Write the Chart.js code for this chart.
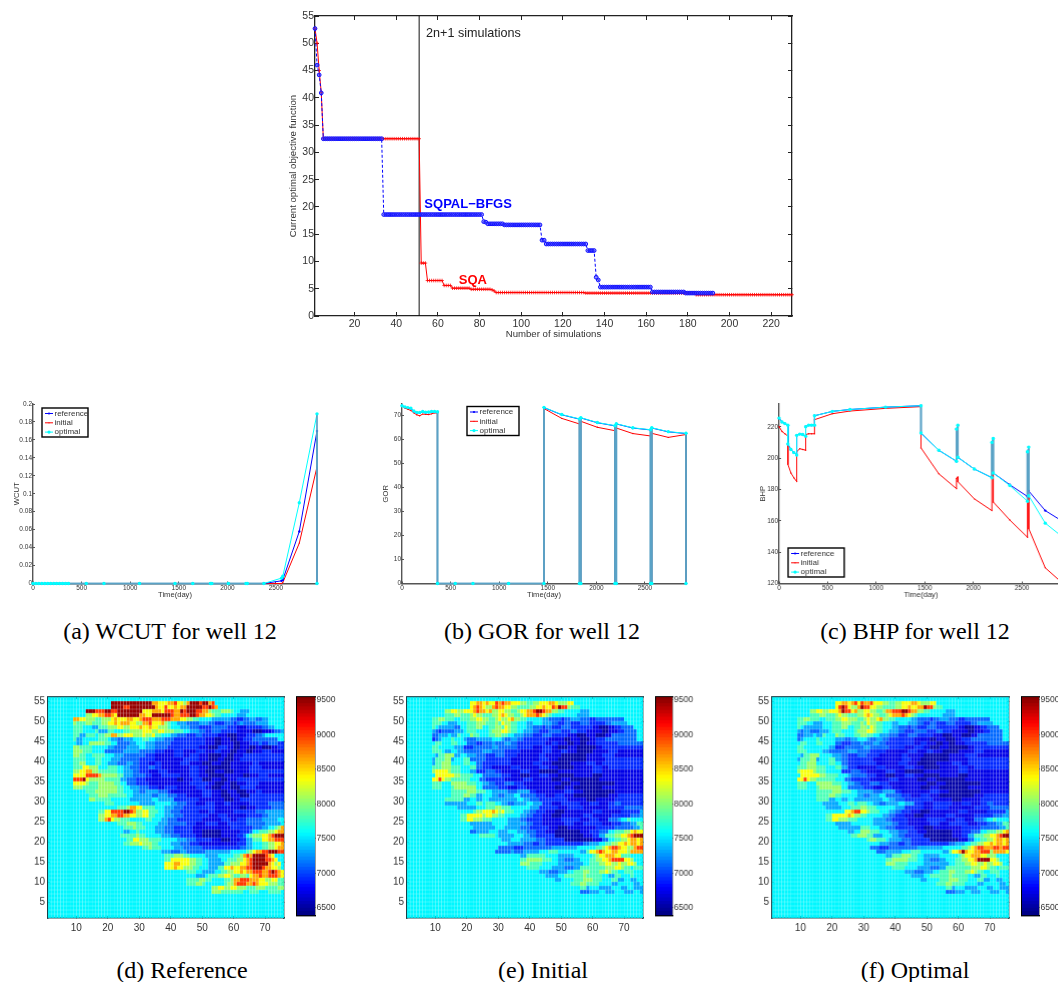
<!DOCTYPE html>
<html><head><meta charset="utf-8">
<style>
html,body{margin:0;padding:0;background:#fff;width:1058px;height:982px;overflow:hidden;position:relative}
.c{position:absolute}
.cap{position:absolute;font:24px "Liberation Serif",serif;color:#000;white-space:nowrap;transform:translateX(-50%)}
</style>
<script src="https://cdn.jsdelivr.net/npm/chart.js@4"></script>
</head><body>
<script>
// ---------- top chart data ----------
const sqpalRunLen=[1,1,1,1,29,48,1,1,8,18,2,20,4,1,1,25,16,14];
const sqpalRunVal=[52.7,46,44.2,40.9,32.5,18.6,17.3,17.2,16.9,16.7,13.9,13.2,12,7.1,6.6,5.3,4.4,4.2];
const sqaRunLen=[1,1,1,1,47,3,8,4,9,10,1,1,43,53,47];
const sqaRunVal=[52.7,50,45,41,32.5,9.7,6.5,5.6,5.1,4.9,4.8,4.6,4.3,4.2,3.9];
const simTicks=[20,40,60,80,100,120,140,160,180,200,220];
const objTicks=[0,5,10,15,20,25,30,35,40,45,50,55];
// ---------- well panels data ----------
const timeTicks=[0,500,1000,1500,2000,2500];
const timeA=[0,30,60,91,122,152,182,213,243,274,304,335,365,548,730,1096,1461,1644,1826,1840,2010,2191,2205,2375,2557,2570,2740,2922,2922];
const wcutRef=[0,0,0,0,0,0,0,0,0,0,0,0,0,0,0,0,0,0,0,0,0,0,0,0,.003,.004,.058,.17,0];
const wcutIni=[0,0,0,0,0,0,0,0,0,0,0,0,0,0,0,0,0,0,0,0,0,0,0,0,0,.001,.045,.13,0];
const wcutOpt=[0,0,0,0,0,0,0,0,0,0,0,0,0,0,0,0,0,0,0,0,0,0,0,0,.006,.008,.09,.189,0];
const wcutTicks=[0,.02,.04,.06,.08,.1,.12,.14,.16,.18,.2];
const timeB=[0,30,60,91,122,152,182,213,243,274,304,335,365,365,548,730,1096,1461,1461,1644,1826,1826,1840,1840,2010,2191,2191,2205,2205,2375,2557,2557,2570,2570,2740,2922,2922];
const gorRef=[74,73.4,73.1,72.9,71.7,71.1,71.1,71.5,71.2,71.3,71.5,71.5,71.4,0,0,0,0,0,73.2,70.2,68.4,0,0,68.9,66.9,65.6,0,0,66.4,64.7,63.9,0,0,64.7,63.1,62.4,0];
const gorIni=[74,73,72.5,72,71,70.2,69.8,70.5,70.4,70.3,70.6,71,70.9,0,0,0,0,0,72.8,68.7,66.4,0,0,67.5,65,63.6,0,0,64.7,62.4,61.4,0,0,62.5,60.8,62,0];
const gorOpt=[74,73.5,73.2,73,71.8,71.2,71.2,71.6,71.3,71.4,71.6,71.6,71.5,0,0,0,0,0,73.3,70.3,68.5,0,0,69,67,65.7,0,0,66.5,64.8,64,0,0,64.8,63.2,62.5,0];
const gorTicks=[0,10,20,30,40,50,60,70];
const timeC=[0,30,60,91,91,122,152,182,182,213,243,274,274,304,335,365,365,548,730,1096,1461,1461,1644,1826,1826,1840,1840,2010,2191,2191,2205,2205,2375,2557,2557,2570,2570,2740,2922];
const bhpRef=[225.5,223,222,221,209,205.5,203.5,202,214.5,215.3,215,214,220,221,221,221,227,229.8,231,232.5,233.4,216,205,198,218.5,221,200.5,193,187.5,210,212.5,190.5,183,175.5,204,207,179,166.5,159.5];
const bhpIni=[220,217,215.5,214,196,190.5,187.5,185,204,206,205.5,205,215,215.5,215.5,215.5,224.5,228.3,230,231.7,232.8,206.5,190,180.5,187,188,185,174,166.5,189,191,172,160.5,149.5,175,177,155,130,120];
const bhpOpt=[225.5,223,222,221,209,205.5,203.5,202,214.5,215.3,215,214,220,221,221,221,227,229.8,231,232.5,233.4,216,205,198,218.5,221,200.5,193,187.5,210,212.5,190.5,182.5,172.5,204,207,176,158.5,149.5];
const bhpTicks=[120,140,160,180,200,220];
// ---------- maps, rows y=54 downward; letters index levelValues, digits are run lengths, @n holds the last level up to column n ----------
const levelValues={a:6500,b:6700,c:6900,d:7100,e:7300,f:7550,g:7780,h:8020,i:8320,j:8620,k:9000,l:9450};
const mapTicksX=[10,20,30,40,50,60,70];
const mapTicksY=[5,10,15,20,25,30,35,40,45,50,55];
const barTicks=[6500,7000,7500,8000,8500,9000,9500];
const mapD=[
"20f13l2j1i2i2j1k2i1h1j3l1k2l1j1k",
"20f4l2k8l1j2i1k2i1j1i2j5l2k1l1k1j",
"12f3l3k2l2k8l3i3j1i3k2j1l1k3l2k2j1h3g3h1g2f3e",
"12f2h2i2j2k1j1i7l2j2i6l1k2j3k2l1k2j2i1h2g5f3e",
"8f2j2i3h2g3h1i1j3i2j2i1j3k3j3k3j2i2h2g4f6e2d2c2d2e2d2e@69",
"8f1h3g2h3g2h2i1j1i3j2i2h2j1k3i1j1h1g2f3e4d3e2d3c3d1c1d1e4d3e@70",
"8f3g3f2e3g3h2i2h3i1j2i1j2i3h1g3f3e3d4c5d3c3b5c2d2e@72",
"8f3g4f1g3e2g3f2g4h3i2h2i3h3g2f3e2d2c3d5c5b3a3b1c2d1e@73",
"8f2g2e3g1f2g2h2j2h3i3h1i2h1i2g3f2e3d3c2d5c3b3a3b3c2d1e",
"8f1g2e5f3g1f2e2d3e3f2g2f3e3d2c3c2c3c3b2a3b2a2b3c2d@73",
"9f2e2f5h2g2f4d2e3f3e5d4c2c5c3b2a4b2a3b3c1d2c3d2c@75",
"8f2h4g4f1f2e4d4e2f3e4d3c5c2c3b3a3c2b2a3b2a2b3a2b3c@75",
"8f3h3g3f1f3d3d3e2e3d2d3c3b3c4b3c3b2c3b2a3b2a3b3c3b@75",
"8f2h2g2f1g3g3f3e3d2d2d3c6b3c2b3c3b4a2b2a3b3c3c@75",
"8f2g2g3f2g3f3e3d3d2c3c6b3b2c3c3b3a2b3a2b3c3c@75",
"8f2g2h3f2g2f3e3d2e2d3c2b2c4b2b3c4b3a3b2a1a4b3b2c2b@75",
"8f3g2i3h3f3g2f2e3d3c2d2c5b4b3c3b3a2a2a2b4b2c2c2b@75",
"8f2h2i2j2h2g4g2f3e2d3c3b3c4b3b3c2b3a3b3a2b3b3c3c2c@75",
"8f2i2i4k1j2h3h2g3e4d2c3b3c3c3b3c3b2a3a3b3b2a3b3c2b@75",
"8f3k1l1i3h2h2g3g2e3d3c3b4b3b1a1a3b3c3a3b2a3b4c3c@75",
"8f4i1h3g3h2h2g2f3d4c3b3b4b3b3c3c2b3a2b2a3b4c2b@75",
"8f3h3g2g3h3h2g2f3e3d3c2b4c3b3b3c2b3a3b3a3c2c2b@75",
"12f3g4h3h2g3f2e2d4e3d1c4b3b3b3c3b2a3b3a3b2c3b@75",
"13f3g3h3g3g2f3e3e2d3e3d3c3b2b3c3b3a3b3a3c3c@75",
"13f2h2g3g2f4f2e3e2e2f2e3e2c3c3c3b2b3b3a2b2c3c3c@75",
"15f3f3g3f5f2e3e2f3f2e3d3c3b3c3b2c3b3b3c3c2d@75",
"22f2g1g1h2j2i4g2f1f2e1e3d4c3c3c3b2b3b2a3b3c2c3d@75",
"16f2g2i1k3k2l1k1j2h2i3g2f2e3d3c3c3b2c3b3b2c2c3c3d2e@75",
"16f2h2i2j2k2j2i2h2i2g3f3e3d3c3c2c3b3c3b3b3c2c2d3e@75",
"16f2h1j1k1i2h3g3f2f2g3f2e3d3c2c3c4b2b3c2b3c3d2d1e@73",
"20f2f3g3h2g2f3f3e3d3d3c3b4c3b3c3c3d3d3e2e2f1g1i",
"21f3f3g1h1g2g3f3e3d3c3c3b3b3b3b4c3c3d2e2f1g1h2j1i",
"21f3f2e2f1g2f3f3e3d3c3c3b3a3a3b3b3c1d2f3g2h1i2j1j2k",
"23f3g2g1h2g2f3f3e3d2c3c2b3a3a3b2b2c1d1f1g2h1h2i1j1k3l",
"25f2g2i3h1g3g2f3f3e3d2c3c3b3a3b2c2e3g2i2j3k1k2l",
"24f2g3h1i2h1h2g2f2f3e3d3c3b3b3b3b3c2e3f2g2h2i1j2k1k3l",
"30f2g1h2g1g2f2f3e3d3d3c3c3c3c2d2e3f2g2h1i2j1k1j3k2k1l",
"36f3e3d2e3d3d3e2e3e3f2f1g1h1i2j2k3l3k3l1k",
"37f3g3h2g2f3f2e2e2f3f2g1h1j1k1j4l1k1j1i",
"37f2g3i3i2h2g2f2e2e2f3g2h1i1j1k4l2k1j1i",
"37f3i2j3i2h2g2f3e2e2g3h2i1j1k5l1j1i1h1i",
"37f3i1j2i3h2g3f3e2g2i1j2i2j2k3l1k2j2i1h",
"44f3g2f2e2e2f2g2h2i1j1i2j3k2j1k1l1k1j1i1j",
"47f3e1f3g2h2i1h2g2h1g1i2j1k2j2k1k1j2i",
"44f4g2h2g4f2g1h2j3k3j2i2h2i3g1h",
"44f3g2h1g6f1g2h1j3k2j1k1j3i3h3g",
"52f2h2i2h2i3h3g3h4g2h2g1f",
"52f3h7g2f3g3f4g3f1d1e"];
const mapE=[
"20f2i2j1i1j2i1k1j1k2j3i2h2g2h3i2j1i3h2i",
"20f1i1j1k1j1i2h1j1k2j2i2h4g2h2i1j2i1k1j1l2k1h3g",
"12f2h2i2h2i1i1j1k2j1i1j2h2i2h2g1h2i2j1k2l1k2j2h2g3f2f3e",
"12f3g2h1g2g1h1i2h3g2h1i1j1i2h2g1h1i3j1k1j1i1h1g3f5f2e2e",
"8f2g2h3g2f3g2h2i2h2g1h1i2h1i1j2h2g2f3f2e2d2d1c2d3e3d2c3d@69",
"8f3g2f3e3f3g3h3g1h1g1i2h2g3f2e3f3e2d2c2d3c3d2c3c2d2e@70",
"8f1g1f5e2d2f3g2h2f2g2h1g1i1h2g3f2e3d1c2d3c3d4c3c2b3a2b2c1d@72",
"8f1e1d1c4d3e1f3g4f1g3h2i1h2g2f3e2d3c4d3c2d3c5b2a3b2c1d@73",
"8f2d3e1f2e1g3f1h2g3f2g2h2g2f3e3d3c3d2c3c3b3a3b3a2b2d@73",
"8f1c1d1e3f1g3f1e3d3e2e3f1e2d2e2d3c3c2c2b3b2a3b3a2b3c2d@73",
"9f2g3f2g3f3d2c3d1e3d2e2d3c3c3c2b2c3b2a2b2a3b3c4c2d@75",
"8f2g3f2f3e3c3d3d2e3d3d2c3c3b3c2b3a3b3a3a2b2c3c@75",
"8f3g1f2e2f2e3d3d3e2d2d2c3c3b4b3c3b2c3b3a2a2b3b3c2b@75",
"9f1e2g3h2e2f3e3d3c3d2c2c3b4b2c3b2b3a3a2a2b3b2c2c2b@75",
"8f1e3g2h1e3f2g2d3d3c3c2c3b4b2b3c3b3a4a2a3b3b2c2c@75",
"8f1e2g3h2f2f2g2f2d3c3c3c3b4b3c3b2a4a3b2b3c2b3c@75",
"8f3g3h3g3f2g2d3c3b3b3c3b3b3c3b3a2a3b3b3c2b3c@75",
"8f1h2i2i1h3g3f2e3c3d2c3b3b3c3b3a3a3b2b3b3b3c2b3b@75",
"9f2i4i2h2g2g3f3d3d3c3b3a3b3c3b2a3a3b3b3a2b3b3b@75",
"8f2i1k1i2h3g3g3f2d3c3c3b3b3c3b3b3a3b3a3a3a2b3b@75",
"8f3g3f2h3h3g2f2e2d3c3d3c3b3b3b3b3a3b2a3a3a3a3b@75",
"8f3g3f1g3h4h2f2d3d3c3b3c3b3b3b3a3b3a3a3a3b3b@75",
"14f2g3g3h3g2f2e3e3d4e2c3b3b3b3c3b3a2a3a2a3b3b@75",
"14f2g2g2h2g2e3f2e2d3e2f3d2d3c3b3c3b3a2a3a3a3b2c@75",
"12f2g2g2g2e2f2e2f3e3e3e2f2e3d3c3c3c3b3b3a3b3b2c2c@75",
"12f4e3e3f2g1f3g2f2e2d2e2e2f3e3c3b3c3c3b3c3b2c2d2c@75",
"16f3e3e3f1g2g2h3g2f3f1f3e3c3c3b3c2c3b3b2b3c2c3d@75",
"21f1g2h1i2i1j1i1h1i3g3f2e2d3c3b3a3b3b3b3c3b3b3c3c2e@75",
"17f2g2i3i1h2i2h2g2f3f2e2d3c3b3a3b4b3c3b3b3c3c3d1e@75",
"17f2g2i1h2h1g2g3f2f2e2e2d3c2c3b3b3c3c3b3c3b3d1e2f1g",
"20f2e3e2e3f2f2e3e1e2d3c3b4b3c3b3c3c3b3c3d2e3g1h1i",
"21f2e3e2e3f3e2e3d3c3c3b3a3b3b3b3c3c3d3d2e2g2h2i",
"20f2d2e2e3f3e3f3e3d3c3b3a3a2a3b3c3d2f3g2h1i1j2i1j",
"23f2g3g1f2e3e3f2e2d3c3c3a3a3a3b2c2e3g2h2i1j1k1l1l3l",
"30f1e2e3f2e3e3d3c3c3a3a3a3b2d2f2g2h1i2j1i1j1k1l1k2l",
"32f3e2e3d2c2d3c3c3c3c2d3e2f2g2h2i1j1i2j1i1j2k",
"29f3d2d3c3d3d3d3e2e3e3f3f2g1h1i1j2k1j2i2h1j2k",
"28f2d3d1e3d2e3e3f3g3f1f2f1f2e1g2i1j1k1j2i2j1i2i1h1j3j3i",
"36f2e3g3g2f2f3e2e3f3f1g1h2i2j1j2i3g",
"36f2g2h3h3g2f2e3d2e3f2g2h2i1j4k2i1h",
"36f3h2g2g2f3f3e3e2e2f3g2h2i2h1i2h2i1h",
"38f2g2g2f2f2e2e3d2e2g3g3g3h2i1h2g1f3g1h2g",
"42f3e3d3e2f3g2h3g2h1i1h2g2f3g",
"44f4e2f3g3g1h2g3g2f2e2g1f2f1g",
"47f2e4f3g3h3g3f2g2e2f2e",
"52f3g2h4g4f2e2f3f2e",
"55f2g1e3f2e2e3f2e2f3e",
"55f3d1e2e2f2e1e3f3e2f1e3c"];
const mapF=[
"20f2i2j1i1j1k1i1k2j1k3i2h2g2h3i2j1i3h2i",
"20f1i1k1l1k1i2h1j1l2k2i2h4g2h2i1j2i2j1l2k1h2g",
"12f2h2i2h2i1i1j1l2k1i1j2h2i2h2g1h2j2k1k2l1k2j2h2g3f2f3e",
"12f3g2h1g2g1h1i2h3g2h1i1j1i2h2g1h1i3j1k1j1i1h1g3f5f2e2e",
"8f2g2h3g2f3g2h2i3h2g1h1i2h1i1j2h2g2f3f2e2d2d1c2d3e3d2c3d@69",
"8f3g2f3e3f3g3h3g1h1g1i2h2g3f2e3f3e2d2c2d3c3d2c3c2d2e@70",
"8f1g1f6e1f2f3g2h2f2g2h1g1i1h2g3f2e3d1c2d3c3d4c3c2b3a2b2c1d@72",
"8f1e1d2e3d3e1f3g4f1g3h2i1h2g2f3e2d3c4d3c2d3c5b2a3b2c1d@73",
"8f2d3e1f2e1g3f1h2g3f2g2h2g2f3e3d3c3d2c3c3b3a3b3a2b2d@73",
"8f1d1e4f1g3f2f1e2e2d2e3f1e2d2e2d3c3c2c2b3b2a3b3a2b3c2d@73",
"9f2g3f2g3f1f2d3c3d1e3d2e2d3c3c3c2b2c3b2a2b2a3b3c4c2d@75",
"8f2g3f2f3f2e3c3d3d2e3d3d2c3c3b3c2b3a3b3a3a2b2c3c@75",
"8f3g1f2f2f2e3d3d3e2d2d2c3c3b4b3c3b2c3b3a2a2b3b3c2b@75",
"9f1e2g3h1f3f3e2d3c3d2c2c3b4b2c3b2b3a3a2a2b3b2c2c2b@75",
"8f1e3g2h1e3f2g2e2d3c3c2c3b4b2b3c3b3a4a2a3b3b2c2c@75",
"8f1f2g3h2f2f2g2f2d3c3c3c3b4b3c3b2a4a3b2b3c2b3c@75",
"8f3g3h3g3f2g2e3c3b3b3c3b3b3c3b3a2a3b3b3c2b3c@75",
"8f1h2i2i1h3g3f2f3c3d2c3b3b3c3b3a3a3b2b3b3b3c2b3b@75",
"9f2i4i2h2g2g3f1e2d3d3c3b3a3b3c3b2a3a3b3b3a2b3b3b@75",
"8f2i1k1i2h3g3g3f2d3c3c3b3b3c3b3b3a3b3a3a3a2b3b@75",
"8f3g3f2h3h3g2f2e2d3c3d3c3b3b3b3b3a3b2a3a3a3a3b@75",
"8f3g3f1g3h4h2f2d3d3c3b3c3b3b3b3a3b3a3a3a3b3b@75",
"14f2g3g3h3g2f2e3e3d4e2c3b3b3b3c3b3a2a3a2a3b3b@75",
"14f2g2g2h2g2f3f2e2d3e2f3d2d3c3b3c3b3a2a3a3a3b2c@75",
"14f2g2g2e2f2e2f3e3e3e2f2e3d3c3c3c3b3b3a3b3b2c2c@75",
"16f2e3e3f2g1f3g2f2e2d2e2e2f3e3c3b3c3c3b3c3b2c2d2c@75",
"17f2e3e3f1g2g2h3g2f3f1f3e3c3c3b3c2c3b3b2b3c2c3d@75",
"23f1i1i1j2k2i1h3g3f2e2d3c3b3a3b3b3b3c3b3b3c3c2e@75",
"17f2g2i3i1j1i2h2g2f3f2e2d3c3b3a3b4b3c3b3b3c3c3d1e@75",
"17f2g2i1h2h1g2g3f2f2e2e2d3c2c3b3b3c3c3b3c3b3d1e2f1g",
"20f2e3e2f3f2f2e3e1e2d3c3b4b3c3b3c3c3b3c3d2e3g1h1i",
"21f2e3e2e3g3f2e3d3c3c3b3a3b3b3b3c3c3d3d2e2g2h2j",
"24f2e2f3h3g3f3e3d3c3b3a3a2a3b3c3d2f3g2h1i1j2i1j",
"25f2g3h2g3e3f2e2d3c3c3a3a3a3b2c2e3g2h2i1j1k5l",
"30f1g2h3g1f1e3e3d3c3c3a3a3a3b2d2f2g2h1i2j1i1j1k1l1k2l",
"34f3e3d2c2d3c3c3c3c2d3e2f2g2h2i1j1i2j1i1j2k",
"31f3d3c3d3d3d3e2e3e3f3f2g1h1i1j2k1j2j2k1j2k",
"33f3d2e3e3f3g3f1f2f1f2e1g2i1j1l1j2i2j1k2k1h1j3j3i",
"36f2e3g3h2g2f3e2e3f3f1g1h2i2j1j2i3h",
"36f2g2h3h3g2f2e3d2e3f2g2h2i1j4l2i1h",
"36f3h2g2g2f3f3e3e2e2f3g2h2i2h1i2h2i1h",
"38f2g2g2f2f2e2e3d2e2g3g3g3h2i1h2g1f3g1h2g",
"42f3e3d3e2f3g2h3g2h1i1h2g2f3g",
"44f4e2f3g3g1h2g3g2f2e2g1f2f1g",
"47f2e4f3g3h3g3f2g2e2f2e",
"52f3g2h4g4f2e2f3f2e",
"55f2g1e3f2e2e3f2e2f3e",
"55f3d1e2e2f2e1e3f3e2f1e3c"];

// ---------- helpers ----------
const SANS='"Liberation Sans",sans-serif';
const INK='#222';
Chart.defaults.animation=false;
function expand(lens,vals){const o=[];let x=1;lens.forEach((n,i)=>{for(let k=0;k<n;k++)o.push({x:x++,y:vals[i]});});return o;}
function zip(xs,ys){return xs.map((x,i)=>({x,y:ys[i]}));}
function jet(t){t=Math.max(0,Math.min(1,t));
  const f=(c)=>Math.round(255*Math.max(0,Math.min(1,1.5-Math.abs(4*t-c))));
  return `rgb(${f(3)},${f(2)},${f(1)})`;}
const CMIN=6390,CMAX=9543;
const valColor=v=>{const n=Math.floor((v-CMIN)/(CMAX-CMIN)*64);return jet((Math.min(63,n)+.5)/64);};
function mount(L,T,R,B,PL,PB,cfg,rightAxis){
  const PT=26,PR=44;
  const w=R-L+PL+PR,h=B-T+PT+PB;
  const cv=document.createElement('canvas');
  cv.className='c';cv.width=w;cv.height=h;
  cv.style.cssText=`left:${L-PL}px;top:${T-PT}px;width:${w}px;height:${h}px`;
  document.body.appendChild(cv);
  cfg.options=Object.assign({responsive:false,devicePixelRatio:1,animation:false,
    layout:{padding:{top:PT,right:PR-(rightAxis||0),left:0,bottom:0}}},cfg.options||{});
  cfg.options.plugins=Object.assign({legend:{display:false},tooltip:{enabled:false}},cfg.options.plugins||{});
  return new Chart(cv.getContext('2d'),cfg);
}
function axis(o){
  const horiz=(o.position==='bottom'||o.position==='top');
  const ax={type:'linear',position:o.position,min:o.min,max:o.max,offset:false,
    afterFit:s=>{if(horiz)s.height=o.size;else s.width=o.size;},
    afterBuildTicks:s=>{s.ticks=o.ticks.map(v=>({value:v}));},
    border:{display:true,color:o.line||INK,width:o.lw||1},
    grid:{offset:false,drawOnChartArea:false,drawTicks:!!o.tick,tickLength:-(o.tick||0),tickColor:o.line||INK,tickWidth:1},
    ticks:{display:!!o.labels,autoSkip:false,maxRotation:0,minRotation:0,color:o.color||'#333',
      font:{family:SANS,size:o.fs||10},padding:(o.tick||0)+(o.pad||2),
      callback:v=>String(+v.toFixed(2))}};
  if(o.title)ax.title={display:true,text:o.title,color:o.color||'#333',font:{family:SANS,size:o.tfs||10},padding:0};
  return ax;
}
const legendBox=(x,y,w,h,rows)=>({id:'box',afterDatasetsDraw(c){
  const g=c.ctx,a=c.chartArea;g.save();
  const X=a.left+x,Y=a.top+y;
  g.fillStyle='#fff';g.strokeStyle='#000';g.lineWidth=1.4;g.fillRect(X,Y,w,h);g.strokeRect(X,Y,w,h);
  g.font='8px '+SANS;g.textBaseline='middle';
  rows.forEach((r,i)=>{const yy=Y+5.5+i*9.3;
    g.strokeStyle=r.color;g.lineWidth=1;g.beginPath();g.moveTo(X+3,yy);g.lineTo(X+11,yy);g.stroke();
    g.fillStyle=r.color;g.beginPath();g.arc(X+7,yy,r.size,0,7);g.fill();
    g.fillStyle='#333';g.fillText(r.text,X+12.5,yy);});
  g.restore();}});
const legendRows=[{text:'reference',color:'#0000ff',size:1.1},{text:'initial',color:'#ff0000',size:.6},{text:'optimal',color:'#00ffff',size:1.6}];

// ---------- top chart ----------
const noteList=[{x:54.3,y:51.8,t:'2n+1 simulations',f:'12.6px '+SANS,c:'#222'},
  {x:53.5,y:20.5,t:'SQPAL\u2212BFGS',f:'bold 13px '+SANS,c:'#0000ff'},
  {x:70,y:6.6,t:'SQA',f:'bold 13px '+SANS,c:'#ff0000'}];
const notes={id:'notes',afterDatasetsDraw(c){const g=c.ctx;g.save();g.textBaseline='middle';
  noteList.forEach(n=>{g.font=n.f;g.fillStyle=n.c;g.fillText(n.t,c.scales.x.getPixelForValue(n.x),c.scales.y.getPixelForValue(n.y));});g.restore();}};
const sqpalData=expand(sqpalRunLen,sqpalRunVal),sqaData=expand(sqaRunLen,sqaRunVal);
mount(315,16,792,316,27,24,{type:'line',data:{datasets:[
  {label:'SQPAL-BFGS',data:sqpalData,borderColor:'#0000ff',borderWidth:1,borderDash:[3,2],pointStyle:'circle',pointRadius:1.9,pointBorderWidth:1,pointBorderColor:'#1010ff',pointBackgroundColor:'rgba(60,60,255,.55)',clip:false,order:1},
  {label:'SQA',data:sqaData,borderColor:'#ff0000',borderWidth:1,pointStyle:'cross',pointRadius:1.8,pointBorderWidth:.8,pointBorderColor:'#ff0000',clip:false,order:2},
  {label:'2n+1',data:[{x:51,y:0},{x:51,y:55}],borderColor:'#111',borderWidth:1,pointRadius:0,order:3}
]},plugins:[notes],options:{scales:{
  x:axis({position:'bottom',min:1,max:230,ticks:simTicks,labels:true,size:24,tick:4,fs:10.5,title:'Number of simulations',tfs:9.6,pad:2,lw:1.3}),
  y:axis({position:'left',min:0,max:55,ticks:objTicks,labels:true,size:27,tick:4,fs:10.5,title:'Current optimal objective function',tfs:9.6,pad:1,lw:1.3}),
  xT:axis({position:'top',min:1,max:230,ticks:simTicks,size:0,tick:4,lw:1.3}),
  yR:axis({position:'right',min:0,max:55,ticks:objTicks,size:0,tick:4,lw:1.3})
}}});

// ---------- well panels ----------
const steel='#5aa2c6';
function well(L,R,yMin,yMax,yTicks,title,xs,ref,ini,opt,lg){
  const isSteel=c=>{const a=c.p0.parsed,b=c.p1.parsed;return (a.y===0&&b.y===0)||(a.x===b.x&&(a.x>=1461||a.y===0||b.y===0));};
  const seg={borderColor:c=>isSteel(c)?steel:undefined,borderWidth:c=>isSteel(c)?1.7:undefined};
  const xMax=2922;
  mount(L,404,R,583.7,21,15.5,{type:'line',data:{datasets:[
    {label:'reference',data:zip(xs,ref),borderColor:'#0000ff',backgroundColor:'#0000ff',borderWidth:1,pointRadius:1.2,pointBorderWidth:0,segment:seg,clip:false,order:2},
    {label:'initial',data:zip(xs,ini),borderColor:'#ff0000',backgroundColor:'#ff0000',borderWidth:1,pointRadius:.7,pointBorderWidth:0,clip:false,order:3},
    {label:'optimal',data:zip(xs,opt),borderColor:'#00ffff',backgroundColor:'#00ffff',borderWidth:1,pointRadius:1.7,pointBorderWidth:0,segment:seg,clip:false,order:1}
  ]},plugins:[legendBox(lg[0]-L,lg[1]-404,lg[2],lg[3],legendRows)],options:{scales:{
    x:axis({position:'bottom',min:0,max:xMax,ticks:timeTicks,labels:true,size:15.5,tick:2,fs:6.5,title:'Time(day)',tfs:7.6,pad:1,line:'#555',lw:1.4}),
    y:axis({position:'left',min:yMin,max:yMax,ticks:yTicks,labels:true,size:21,tick:2,fs:6.5,title,tfs:7.6,pad:1,line:'#555',lw:1.4})
  }}});
}
well(33,317,0,.2,wcutTicks,'WCUT',timeA,wcutRef,wcutIni,wcutOpt,[42,408,46,29]);
well(402,686,0,74.7,gorTicks,'GOR',timeB,gorRef,gorIni,gorOpt,[467,406.5,52,29]);
well(779,1062.7,120,234.5,bhpTicks,'BHP',timeC,bhpRef,bhpIni,bhpOpt,[788,548,56,29]);

// ---------- maps ----------
function decode(rows){
  return rows.map(r=>{const out=[];let last=levelValues.f;
    for(const m of r.matchAll(/(\d+)([a-l])|@(\d+)/g)){
      if(m[3]){while(out.length<+m[3])out.push(last);}
      else{last=levelValues[m[2]];for(let k=0;k<+m[1];k++)out.push(last);}}
    while(out.length<75)out.push(levelValues.f);return out.slice(0,75);});
}
function heat(L,R,rows){
  const grid=decode(rows);
  const labels=Array.from({length:75},(_,i)=>i+1);
  const datasets=[];
  for(let y=1;y<=55;y++){
    const row=grid[54-y]||labels.map(()=>levelValues.f);
    datasets.push({data:row.map(()=>[y+.03,y+.97]),backgroundColor:row.map(valColor),borderWidth:0,inflateAmount:0,xAxisID:'x',yAxisID:'y'});
  }
  mount(L,697,R,917.7,26,19,{type:'bar',data:{labels,datasets},options:{
    barPercentage:.98,categoryPercentage:1,
    datasets:{bar:{grouped:false}},
    scales:{
      x:{type:'category',display:false,offset:true},
      xB:axis({position:'bottom',min:1,max:76,ticks:mapTicksX,labels:true,size:19,tick:2,fs:10,line:'#17424a',lw:1.4,pad:4}),
      y:axis({position:'left',min:1,max:56,ticks:mapTicksY,labels:true,size:26,tick:2,fs:10,line:'#17424a',lw:1.4,pad:3}),
      xT:axis({position:'top',min:1,max:76,ticks:mapTicksX,size:0,tick:2,line:'#17424a',lw:1.4}),
      yR:axis({position:'right',min:1,max:56,ticks:mapTicksY,size:0,tick:2,line:'#17424a',lw:1.4})
    }}});
}
function colorbar(L,R){
  const datasets=[];const step=(CMAX-CMIN)/64;
  for(let i=0;i<64;i++){const lo=CMIN+i*step;
    datasets.push({data:[[lo,lo+step*1.15]],backgroundColor:jet((i+.5)/64),borderWidth:0,xAxisID:'x',yAxisID:'y'});}
  mount(L,697,R,917.7,4,6,{type:'bar',data:{labels:[''],datasets},options:{
    barPercentage:1,categoryPercentage:1,datasets:{bar:{grouped:false}},
    scales:{
      x:{type:'category',display:false,offset:true},
      xB:axis({position:'bottom',min:0,max:1,ticks:[],size:6,line:'#000',lw:1.4}),
      xT:axis({position:'top',min:0,max:1,ticks:[],size:0,line:'#000',lw:1.4}),
      y:axis({position:'right',min:CMIN,max:CMAX,ticks:barTicks,labels:true,size:30,tick:2,fs:8.6,line:'#000',lw:1.4,pad:1.5,color:'#333'}),
      yL:axis({position:'left',min:CMIN,max:CMAX,ticks:barTicks,size:4,tick:2,line:'#000',lw:1.4})
    }}},30);
}
heat(48,284,mapD);colorbar(297,315);
heat(406.7,643.3,mapE);colorbar(656.3,673);
heat(772.3,1009,mapF);colorbar(1021.7,1039);

// ---------- captions ----------
[['(a) WCUT for well 12',170,618],['(b) GOR for well 12',542,618],['(c) BHP for well 12',915,618],
 ['(d) Reference',182,957],['(e) Initial',543,957],['(f) Optimal',915,957]].forEach(([t,x,y])=>{
  const d=document.createElement('div');d.className='cap';d.textContent=t;d.style.left=x+'px';d.style.top=y+'px';document.body.appendChild(d);});
</script>
</body></html>
